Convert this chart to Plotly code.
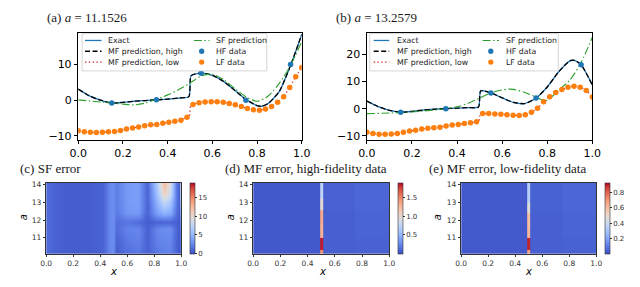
import numpy as np
import plotly.graph_objects as go

# ---------------- data ----------------
curve_x_a = [0, .05, .1, .15, .2, .25, .3, .35, .4, .45, .495, .505, .55, .6, .65, .7, .75, .8, .82, .85, .9, .95, 1.0]
exact_a = [3.1, 1.2, 0.0, -0.8, -0.6, -0.3, -0.1, 0.1, 0.3, 0.6, 1.0, 6.9, 7.6, 7.0, 5.3, 2.8, 0.2, -1.5, -1.7, -0.9, 2.5, 9.8, 18.5]
sf_x_a = [0, .1, .2, .25, .3, .4, .45, .5, .55, .6, .65, .7, .75, .8, .85, .9, .95, 1.0]
sf_a = [0.1, -0.5, -1.1, -1.3, -0.8, 1.5, 3.0, 4.8, 6.8, 7.3, 5.8, 3.3, 1.0, -0.3, 1.2, 4.8, 9.8, 16.5]

curve_x_b = [0, .05, .1, .15, .2, .25, .3, .35, .4, .45, .495, .505, .55, .6, .65, .7, .75, .8, .85, .9, .92, .95, 1.0]
exact_b = [2.8, 0.8, -0.6, -1.3, -1.0, -0.5, -0.2, 0.0, 0.2, 0.4, 0.6, 6.6, 5.8, 4.0, 2.3, 1.9, 3.9, 8.0, 13.5, 17.6, 17.8, 16.2, 8.7]
sf_x_b = [0, .1, .2, .3, .35, .4, .45, .5, .55, .6, .63, .65, .7, .75, .78, .8, .85, .9, .95, 1.0]
sf_b = [-1.8, -1.6, -1.2, -0.5, 0.0, 0.7, 2.0, 3.9, 5.8, 6.9, 7.2, 7.1, 6.0, 4.3, 3.2, 3.1, 6.8, 10.5, 17.0, 26.3]

hf_x = [0.15, 0.35, 0.55, 0.75, 0.95]
hf_a = [-0.8, 0.1, 7.6, 0.0, 10.0]
hf_b = [-1.3, 0.0, 5.8, 3.9, 16.2]

lf_x = list(np.round(np.linspace(0, 1, 38), 4))
lf_a = [-8.6, -8.9, -9.0, -9.1, -9.0, -8.9, -8.8, -8.5, -8.1, -7.8, -7.5, -7.2, -6.9, -6.8, -6.5, -6.2, -5.9, -5.6, -4.8,
        -1.2, -0.7, -0.5, -0.4, -0.4, -0.6, -0.9, -1.3, -1.8, -2.3, -2.7, -2.8, -2.5, -1.8, -0.6, 1.0, 3.6, 6.6, 9.2]
lf_b = [-8.7, -9.1, -9.4, -9.4, -9.3, -9.1, -8.7, -8.2, -7.9, -7.5, -7.2, -7.0, -6.8, -6.4, -6.0, -5.8, -5.4, -5.2, -4.8,
        -1.8, -1.8, -1.9, -2.0, -2.2, -2.4, -2.5, -2.2, -1.3, 0.2, 2.6, 4.4, 6.0, 7.1, 7.9, 8.3, 7.9, 6.7, 4.3]
jump_x = [0.497, 0.503]
jump_a = [-4.6, -1.4]
jump_b = [-4.6, -1.9]

# SF error field (c)
sf_err_x = [0.0, 0.05, 0.15, 0.3, 0.42, 0.47, 0.495, 0.52, 0.6, 0.68, 0.75, 0.82, 0.87, 0.92, 0.96, 0.985, 1.0]
sf_err_a = [10.1, 10.2, 10.8, 11.5, 11.9, 12.4, 13.0, 13.5, 14.1]
sf_err = [
    [0.5, 0.5, 0.4, 0.4, 0.4, 0.6, 0.6, 0.3, 0.5, 0.5, 0.4, 0.6, 0.6, 0.6, 0.4, 0.3, 0.8],
    [1.4, 1.0, 0.7, 0.7, 1.0, 2.6, 3.0, 0.8, 1.6, 2.0, 0.9, 2.0, 2.4, 2.4, 1.0, 0.6, 2.5],
    [1.4, 1.0, 0.7, 0.7, 1.0, 2.6, 3.0, 1.0, 2.0, 2.4, 0.9, 2.4, 2.6, 2.6, 1.0, 0.6, 3.5],
    [1.4, 1.0, 0.7, 0.7, 1.0, 2.6, 3.0, 1.4, 2.4, 2.6, 0.9, 2.6, 3.0, 3.0, 1.2, 0.6, 4.5],
    [1.4, 1.0, 0.7, 0.7, 1.0, 2.6, 3.0, 1.5, 1.8, 1.4, 0.7, 1.0, 1.0, 1.0, 0.8, 0.6, 5.5],
    [1.4, 1.0, 0.7, 0.7, 1.0, 2.6, 3.0, 2.0, 3.4, 3.6, 1.0, 4.0, 5.0, 4.5, 1.6, 0.8, 8.0],
    [1.4, 1.0, 0.7, 0.7, 1.0, 2.6, 3.0, 2.2, 3.6, 3.8, 1.0, 5.0, 7.5, 6.0, 2.0, 0.8, 12.0],
    [1.4, 1.0, 0.7, 0.7, 1.0, 2.6, 3.0, 2.2, 3.6, 3.8, 1.0, 6.0, 11.0, 8.0, 2.0, 0.8, 15.0],
    [1.4, 1.0, 0.7, 0.7, 1.0, 2.6, 3.0, 2.2, 3.6, 3.8, 1.0, 7.0, 12.5, 9.0, 2.0, 0.8, 17.0],
]

# MF error fields (d), (e): cell edges
mf_hi_x_edges = [0, 0.3, 0.492, 0.513, 0.75, 1.0]
mf_hi_a_edges = [10.1, 10.3, 11.0, 11.8, 12.6, 13.2, 14.11]
mf_hi_err = [
    [0.05, 0.05, 1.45, 0.08, 0.09],
    [0.05, 0.05, 1.85, 0.08, 0.09],
    [0.05, 0.05, 1.3, 0.08, 0.1],
    [0.05, 0.05, 1.35, 0.08, 0.1],
    [0.05, 0.05, 1.0, 0.09, 0.11],
    [0.05, 0.05, 0.75, 0.09, 0.11],
]
mf_lo_x_edges = [0, 0.3, 0.492, 0.513, 0.75, 1.0]
mf_lo_a_edges = [10.1, 10.3, 11.0, 11.6, 12.4, 13.0, 14.11]
mf_lo_err = [
    [0.03, 0.03, 0.68, 0.04, 0.045],
    [0.03, 0.03, 0.9, 0.04, 0.045],
    [0.03, 0.03, 0.62, 0.04, 0.05],
    [0.03, 0.03, 0.6, 0.04, 0.05],
    [0.03, 0.03, 0.47, 0.045, 0.055],
    [0.03, 0.03, 0.35, 0.045, 0.055],
]

x_ticks = [0, 0.2, 0.4, 0.6, 0.8, 1.0]
x_ticktext = ["0.0", "0.2", "0.4", "0.6", "0.8", "1.0"]

# ---------------- styling ----------------
W, H = 640, 287
BLUE, ORANGE, GREEN, RED = "#1f77b4", "#ff7f0e", "#2ca02c", "#d62728"
SANS = "DejaVu Sans"
SERIF = "Liberation Serif, Times New Roman, serif"

coolwarm = [
    [0.0, "rgb(59,76,192)"], [0.0625, "rgb(77,104,215)"], [0.125, "rgb(98,130,234)"],
    [0.1875, "rgb(119,154,247)"], [0.25, "rgb(141,176,254)"], [0.3125, "rgb(163,194,255)"],
    [0.375, "rgb(184,208,249)"], [0.4375, "rgb(204,217,238)"], [0.5, "rgb(221,221,221)"],
    [0.5625, "rgb(236,211,197)"], [0.625, "rgb(245,196,172)"], [0.6875, "rgb(247,177,148)"],
    [0.75, "rgb(244,154,123)"], [0.8125, "rgb(236,127,99)"], [0.875, "rgb(222,96,77)"],
    [0.9375, "rgb(203,62,56)"], [1.0, "rgb(180,4,38)"],
]


def fx(px):
    return px / W


def fy(py):
    return 1 - py / H


fig = go.Figure()

DASH_HI = "5px,2.5px"
DOT_LO = "1.4px,2.4px"
DASHDOT = "8px,2.5px,1.5px,2.5px"


def add_top(xa, ya, cx, ex, sx, sy, hfy, lfy, jy):
    kw = dict(xaxis=xa, yaxis=ya, showlegend=False)
    fig.add_trace(go.Scatter(x=cx, y=ex, mode="lines", name="Exact",
                             line=dict(color=BLUE, width=1.3, shape="spline", smoothing=0.6), **kw))
    fig.add_trace(go.Scatter(x=cx, y=ex, mode="lines", name="MF prediction, high",
                             line=dict(color="black", width=1.3, dash=DASH_HI, shape="spline", smoothing=0.6), **kw))
    mx = lf_x[:19] + jump_x + lf_x[19:]
    my = lfy[:19] + jy + lfy[19:]
    fig.add_trace(go.Scatter(x=mx, y=my, mode="lines", name="MF prediction, low",
                             line=dict(color=RED, width=1.1, dash=DOT_LO, shape="spline", smoothing=0.5), **kw))
    fig.add_trace(go.Scatter(x=sx, y=sy, mode="lines", name="SF prediction",
                             line=dict(color=GREEN, width=1.1, dash=DASHDOT, shape="spline", smoothing=0.8), **kw))
    fig.add_trace(go.Scatter(x=hf_x, y=hfy, mode="markers", name="HF data",
                             marker=dict(color=BLUE, size=5.5, line=dict(width=0)), **kw))
    fig.add_trace(go.Scatter(x=lf_x, y=lfy, mode="markers", name="LF data",
                             marker=dict(color=ORANGE, size=5.5, line=dict(width=0)), **kw))


add_top("x", "y", curve_x_a, exact_a, sf_x_a, sf_a, hf_a, lf_a, jump_a)
add_top("x2", "y2", curve_x_b, exact_b, sf_x_b, sf_b, hf_b, lf_b, jump_b)

cb_common = dict(thickness=5, thicknessmode="pixels", len=72 / H, lenmode="fraction",
                 y=fy(248), yanchor="bottom", xanchor="left", xpad=0, ypad=0,
                 outlinewidth=0.6, outlinecolor="#333", ticks="outside", ticklen=2,
                 tickwidth=0.6, tickcolor="#333", tickfont=dict(family=SANS, size=7, color="#333"))

fig.add_trace(go.Heatmap(x=sf_err_x, y=sf_err_a, z=sf_err, xaxis="x3", yaxis="y3",
                         colorscale=coolwarm, zmin=0, zmax=19, zsmooth="best",
                         colorbar=dict(x=fx(178), tickvals=[0, 5, 10, 15], ticktext=["0", "5", "10", "15"], **cb_common)))
fig.add_trace(go.Heatmap(x=mf_hi_x_edges, y=mf_hi_a_edges, z=mf_hi_err, xaxis="x4", yaxis="y4",
                         colorscale=coolwarm, zmin=0, zmax=1.9,
                         colorbar=dict(x=fx(392), tickvals=[0.5, 1.0, 1.5], ticktext=["0.5", "1.0", "1.5"], **cb_common)))
fig.add_trace(go.Heatmap(x=mf_lo_x_edges, y=mf_lo_a_edges, z=mf_lo_err, xaxis="x5", yaxis="y5",
                         colorscale=coolwarm, zmin=0, zmax=0.93,
                         colorbar=dict(x=fx(605), tickvals=[0.2, 0.4, 0.6, 0.8], ticktext=["0.2", "0.4", "0.6", "0.8"], **cb_common)))

top_axis = dict(showline=True, mirror=True, linecolor="black", linewidth=0.8, ticks="outside",
                ticklen=3.5, tickwidth=0.8, tickcolor="black", showgrid=False, zeroline=False,
                tickfont=dict(family=SANS, size=11, color="black"))
bot_axis = dict(showline=True, mirror=True, linecolor="#333", linewidth=0.7, ticks="outside",
                ticklen=2.5, tickwidth=0.6, tickcolor="#333", showgrid=False, zeroline=False,
                tickfont=dict(family=SANS, size=7.5, color="#333"))

yd_top = [fy(132), fy(23)]
yd_bot = [fy(248), fy(176)]

fig.update_layout(
    width=W, height=H, margin=dict(l=0, r=0, t=0, b=0),
    paper_bgcolor="white", plot_bgcolor="white", showlegend=False,
    xaxis=dict(domain=[fx(63), fx(293)], range=[0, 1], anchor="y", tickvals=x_ticks, ticktext=x_ticktext, **top_axis),
    yaxis=dict(domain=yd_top, range=[-11.1, 19], anchor="x", tickvals=[-10, 0, 10], ticktext=["\u221210", "0", "10"], **top_axis),
    xaxis2=dict(domain=[fx(360), fx(592)], range=[0, 1], anchor="y2", tickvals=x_ticks, ticktext=x_ticktext, **top_axis),
    yaxis2=dict(domain=yd_top, range=[-11.4, 28], anchor="x2", tickvals=[-10, 0, 10, 20], ticktext=["\u221210", "0", "10", "20"], **top_axis),
    xaxis3=dict(domain=[fx(30), fx(169)], range=[0, 1], anchor="y3", tickvals=x_ticks, ticktext=x_ticktext, **bot_axis),
    yaxis3=dict(domain=yd_bot, range=[10.1, 14.11], anchor="x3", tickvals=[11, 12, 13, 14], **bot_axis),
    xaxis4=dict(domain=[fx(243), fx(383)], range=[0, 1], anchor="y4", tickvals=x_ticks, ticktext=x_ticktext, **bot_axis),
    yaxis4=dict(domain=yd_bot, range=[10.1, 14.11], anchor="x4", tickvals=[11, 12, 13, 14], **bot_axis),
    xaxis5=dict(domain=[fx(457), fx(596)], range=[0, 1], anchor="y5", tickvals=x_ticks, ticktext=x_ticktext, **bot_axis),
    yaxis5=dict(domain=yd_bot, range=[10.1, 14.11], anchor="x5", tickvals=[11, 12, 13, 14], **bot_axis),
)

annotations = []
shapes = []


def text(px, py, s, size, family, xanchor="left", angle=0, color="black"):
    annotations.append(dict(x=fx(px), y=fy(py), xref="paper", yref="paper", text=s, showarrow=False,
                            xanchor=xanchor, yanchor="middle", textangle=angle,
                            font=dict(family=family, size=size, color=color, weight="normal")))


# panel titles
text(29, 8, "(a) <i>a</i> = 11.1526", 13, SERIF, color="#1a1a1a")
text(326, 8, "(b) <i>a</i> = 13.2579", 13, SERIF, color="#1a1a1a")
text(1, 161, "(c) SF error", 13, SERIF, color="#1a1a1a")
text(212, 161, "(d) MF error, high-fidelity data", 13, SERIF, color="#1a1a1a")
text(422, 161, "(e) MF error, low-fidelity data", 13, SERIF, color="#1a1a1a")

# axis labels of heatmaps
for xl, yl in [(99, 7), (314, 219), (526, 433)]:
    text(xl, 266, "<i>x</i>", 10, SANS, xanchor="center")
    text(yl, 211, "<i>a</i>", 10, SANS, xanchor="center", angle=-90)


# custom legends (matplotlib style, two columns)
def legend(box, c1_line, c1_text, c2_line, c2_text, rows):
    x0, y0, x1, y1 = box
    shapes.append(dict(type="rect", xref="paper", yref="paper", x0=fx(x0), x1=fx(x1), y0=fy(y1), y1=fy(y0),
                       fillcolor="rgba(255,255,255,0.85)", line=dict(color="#cccccc", width=0.8), layer="above"))
    entries = [
        (c1_line, c1_text, rows[0], "Exact", dict(color=BLUE, width=1.3, dash="solid"), None),
        (c1_line, c1_text, rows[1], "MF prediction, high", dict(color="black", width=1.3, dash=DASH_HI), None),
        (c1_line, c1_text, rows[2], "MF prediction, low", dict(color=RED, width=1.1, dash=DOT_LO), None),
        (c2_line, c2_text, rows[0], "SF prediction", dict(color=GREEN, width=1.1, dash=DASHDOT), None),
        (c2_line, c2_text, rows[1], "HF data", None, BLUE),
        (c2_line, c2_text, rows[2], "LF data", None, ORANGE),
    ]
    for (lx0, lx1), tx, ry, label, ln, mk in entries:
        if ln is not None:
            shapes.append(dict(type="line", xref="paper", yref="paper", x0=fx(lx0), x1=fx(lx1), y0=fy(ry), y1=fy(ry),
                               line=ln, layer="above"))
        else:
            cx = (lx0 + lx1) / 2
            shapes.append(dict(type="circle", xref="paper", yref="paper", x0=fx(cx - 2.7), x1=fx(cx + 2.7),
                               y0=fy(ry + 2.7), y1=fy(ry - 2.7), fillcolor=mk, line=dict(width=0), layer="above"))
        text(tx, ry, label, 7.8, SANS, color="#222")


legend((67, 24, 257, 62), (70, 87), 92, (182, 198), 203, [31, 42, 53])
legend((363, 24, 557, 62), (367, 383), 389, (479, 496), 501, [31, 42, 53])

fig.update_layout(annotations=annotations, shapes=shapes)
fig.write_html("out.html")
